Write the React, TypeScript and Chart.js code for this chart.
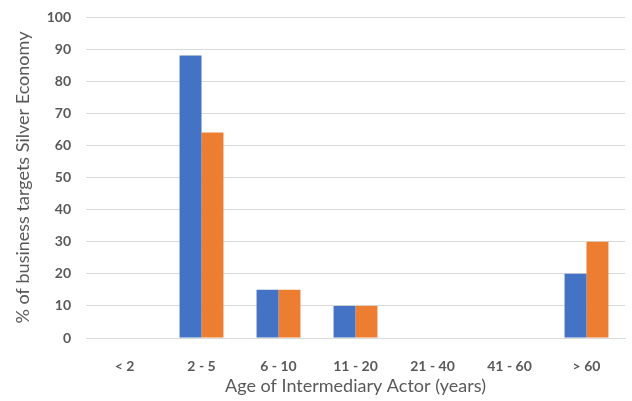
import React, { useEffect, useRef } from "react";
import { Chart, registerables } from "chart.js";

Chart.register(...registerables);

const categories = ["< 2", "2 - 5", "6 - 10", "11 - 20", "21 - 40", "41 - 60", "> 60"];
const seriesBlue = [0, 88, 15, 10, 0, 0, 20];
const seriesOrange = [0, 64, 15, 10, 0, 0, 30];
const yTicks = [0, 10, 20, 30, 40, 50, 60, 70, 80, 90, 100];

const FONT = "Lato, 'Open Sans', sans-serif";
const TEXT = "#595959";

export default function App() {
  const ref = useRef<HTMLCanvasElement>(null);

  useEffect(() => {
    if (!ref.current) return;
    const chart = new Chart(ref.current, {
      type: "bar",
      data: {
        labels: categories,
        datasets: [
          {
            label: "Blue",
            data: seriesBlue,
            backgroundColor: "#4472C4",
            barPercentage: 1,
            categoryPercentage: 0.57,
          },
          {
            label: "Orange",
            data: seriesOrange,
            backgroundColor: "#ED7D31",
            barPercentage: 1,
            categoryPercentage: 0.57,
          },
        ],
      },
      options: {
        animation: false,
        responsive: false,
        maintainAspectRatio: false,
        layout: { padding: { left: 12, right: 7, top: 17, bottom: 4 } },
        plugins: {
          legend: { display: false },
          tooltip: { enabled: false },
        },
        scales: {
          x: {
            grid: { display: false, drawTicks: false },
            border: { display: true, color: "#d9d9d9", width: 1 },
            ticks: {
              color: TEXT,
              font: { family: FONT, size: 14, weight: "bold" },
              padding: 20,
              maxRotation: 0,
            },
            title: {
              display: true,
              text: "Age of Intermediary Actor (years)",
              color: TEXT,
              font: { family: FONT, size: 18 },
              padding: { top: 0, bottom: 0 },
            },
            afterFit: (s: any) => {
              s.height = 59;
            },
          },
          y: {
            min: 0,
            max: 100,
            afterBuildTicks: (s: any) => {
              s.ticks = yTicks.map((v) => ({ value: v }));
            },
            grid: { color: "#d9d9d9", drawTicks: false },
            border: { display: false },
            ticks: {
              color: TEXT,
              font: { family: FONT, size: 14, weight: "bold" },
              padding: 15,
            },
            title: {
              display: true,
              text: "% of business targets Silver Economy",
              color: TEXT,
              font: { family: FONT, size: 18 },
              padding: { top: 0, bottom: 4 },
            },
            afterFit: (s: any) => {
              s.width = 74;
              s.paddingTop = 0;
              s.paddingBottom = 0;
            },
          },
        },
      },
    });
    return () => chart.destroy();
  }, []);

  return (
    <div style={{ position: "absolute", left: 0, top: 0, width: 632, height: 401, background: "#fff" }}>
      <canvas ref={ref} width={632} height={401} />
    </div>
  );
}
